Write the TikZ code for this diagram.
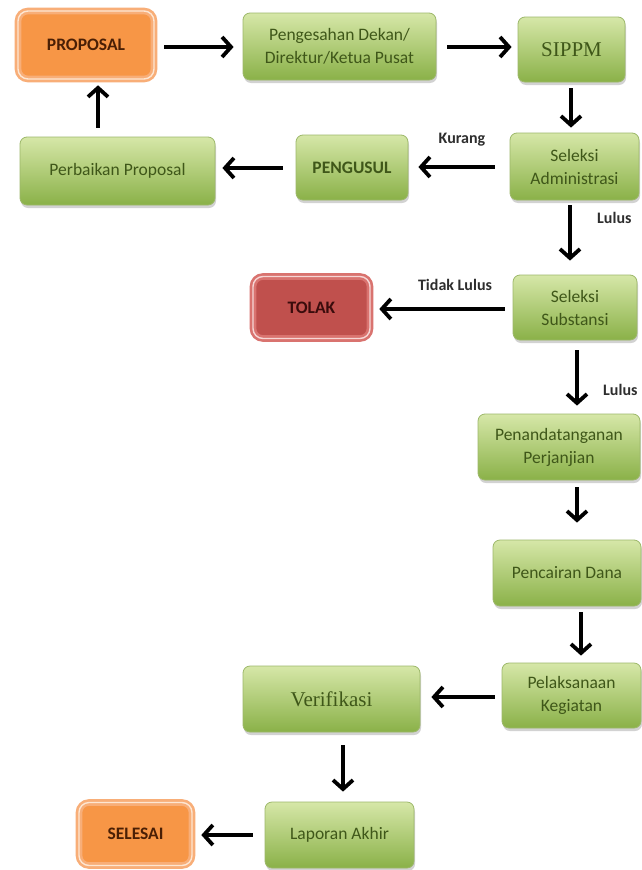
\documentclass[tikz,border=0pt]{standalone}
\usepackage{fontspec}
\setmainfont{Carlito}
\newfontfamily\serifx{Liberation Serif}
\usetikzlibrary{arrows.meta,shadows,calc}
\definecolor{gtop}{HTML}{D6E7A8}
\definecolor{gbot}{HTML}{8AB148}
\definecolor{gline}{HTML}{9DB86A}
\definecolor{gtext}{HTML}{3F5719}
\definecolor{ofill}{HTML}{F79646}
\definecolor{oring}{HTML}{F8AE78}
\definecolor{olight}{HTML}{FDE6D2}
\definecolor{otext}{HTML}{4A1F05}
\definecolor{rfill}{HTML}{C0504D}
\definecolor{rring}{HTML}{D9736F}
\definecolor{rlight}{HTML}{F6D6D5}
\definecolor{rtext}{HTML}{3A0C0C}
\definecolor{ltext}{HTML}{2E2E2E}
\tikzset{
  boxbase/.style={rounded corners=7pt, align=center, inner sep=0pt,
    font=\fontsize{17.5}{23}\selectfont},
  gbox/.style={boxbase, top color=gtop, bottom color=gbot, draw=gline,
    line width=0.8pt, text=gtext,
    drop shadow={shadow xshift=1pt, shadow yshift=-3pt, opacity=0.35}},
  obox/.style={boxbase, rounded corners=10pt, fill=ofill, draw=oring, double=olight,
    line width=2.6pt, double distance=1.4pt, text=otext,
    font=\fontsize{17.5}{23}\selectfont\bfseries},
  rbox/.style={boxbase, rounded corners=10pt, fill=rfill, draw=rring, double=rlight,
    line width=2.6pt, double distance=1.4pt, text=rtext,
    font=\fontsize{17.5}{23}\selectfont\bfseries},
  serifbox/.style={font=\fontsize{21}{25}\serifx\selectfont},
  arr/.style={line width=3.8pt, -{Straight Barb[length=9pt,width=20pt,line width=3.8pt]}},
  lbl/.style={text=ltext, font=\fontsize{16}{19}\selectfont\bfseries, inner sep=0pt}
}
\begin{document}
\begin{tikzpicture}[x=1pt,y=-1pt]
\useasboundingbox (0,0) rectangle (641,870);
\fill[white] (0,0) rectangle (641,870);
% nodes
\node[obox, minimum width=136pt, minimum height=68pt] (prop) at (86,45) {PROPOSAL};
\node[gbox, minimum width=193pt, minimum height=67pt] (peng) at (339.5,46.5) {Pengesahan Dekan/\\Direktur/Ketua Pusat};
\node[gbox, serifbox, minimum width=107pt, minimum height=65pt] (sippm) at (571.5,49.5) {SIPPM};
\node[gbox, minimum width=129pt, minimum height=67pt] (adm) at (574.5,166.5) {Seleksi\\Administrasi};
\node[gbox, minimum width=112pt, minimum height=65pt, font=\fontsize{17.5}{23}\selectfont\bfseries] (pengusul) at (352,167.5) {PENGUSUL};
\node[gbox, minimum width=195pt, minimum height=68pt] (perb) at (117.5,171) {Perbaikan Proposal};
\node[rbox, minimum width=117pt, minimum height=62pt] (tolak) at (311.5,307.5) {TOLAK};
\node[gbox, minimum width=124pt, minimum height=65pt] (subs) at (575,307.5) {Seleksi\\Substansi};
\node[gbox, minimum width=162pt, minimum height=66pt] (pend) at (559,447) {Penandatanganan\\Perjanjian};
\node[gbox, minimum width=148pt, minimum height=66pt] (cair) at (567,573) {Pencairan Dana};
\node[gbox, minimum width=139pt, minimum height=65pt] (pel) at (571.5,695.5) {Pelaksanaan\\Kegiatan};
\node[gbox, serifbox, minimum width=177pt, minimum height=66pt] (verif) at (331.5,699) {Verifikasi};
\node[gbox, minimum width=149pt, minimum height=66pt] (lap) at (339.5,835) {Laporan Akhir};
\node[obox, minimum width=113pt, minimum height=63pt] (sel) at (135.5,834) {SELESAI};
% connectors
\draw[arr] ($(prop.east |- 0,47)+(9,0)$) -- ($(peng.west |- 0,47)+(-9,0)$);
\draw[arr] ($(peng.east |- 0,47)+(11,0)$) -- ($(sippm.west |- 0,47)+(-6,0)$);
\draw[arr] ($(sippm.south -| 571,0)+(0,6)$) -- ($(adm.north -| 571,0)+(0,-5)$);
\draw[arr] ($(adm.west |- 0,167)+(-15,0)$) -- ($(pengusul.east |- 0,167)+(10,0)$);
\draw[arr] ($(pengusul.west |- 0,168)+(-13,0)$) -- ($(perb.east |- 0,168)+(7,0)$);
\draw[arr] ($(perb.north -| 98,0)+(0,-9)$) -- ($(prop.south -| 98,0)+(0,5)$);
\draw[arr] ($(adm.south -| 570,0)+(0,5)$) -- ($(subs.north -| 570,0)+(0,-14)$);
\draw[arr] ($(subs.west |- 0,309)+(-8,0)$) -- ($(tolak.east |- 0,309)+(8,0)$);
\draw[arr] ($(subs.south -| 577,0)+(0,10)$) -- ($(pend.north -| 577,0)+(0,-8)$);
\draw[arr] ($(pend.south -| 577,0)+(0,7)$) -- ($(cair.north -| 577,0)+(0,-17)$);
\draw[arr] ($(cair.south -| 581,0)+(0,6)$) -- ($(pel.north -| 581,0)+(0,-7)$);
\draw[arr] ($(pel.west |- 0,697)+(-7,0)$) -- ($(verif.east |- 0,697)+(11,0)$);
\draw[arr] ($(verif.south -| 343,0)+(0,13)$) -- ($(lap.north -| 343,0)+(0,-10)$);
\draw[arr] ($(lap.west |- 0,835)+(-12,0)$) -- ($(sel.east |- 0,835)+(8,0)$);
% labels
\node[lbl] (kurang) at (462,140) {Kurang};
\node[lbl, anchor=west] (lulus1) at (597,218) {Lulus};
\node[lbl] (tidak) at (455,285) {Tidak Lulus};
\node[lbl, anchor=west] (lulus2) at (603,390) {Lulus};
\end{tikzpicture}
\end{document}
